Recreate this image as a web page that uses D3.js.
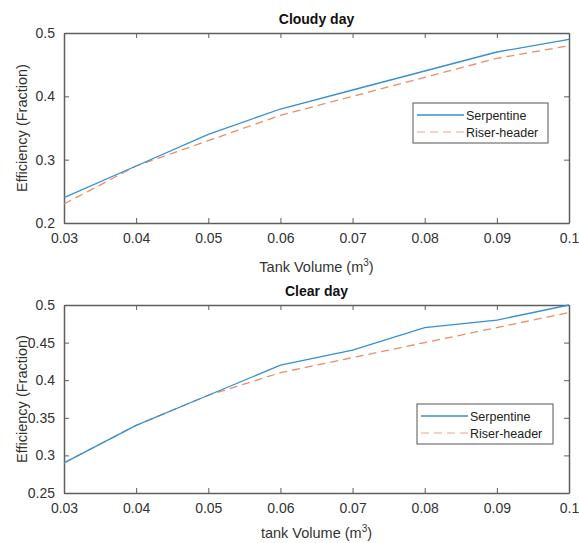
<!DOCTYPE html>
<html><head><meta charset="utf-8">
<script src="https://cdn.jsdelivr.net/npm/d3@7"></script>
<style>body{margin:0;background:#fff}svg{display:block}text{font-family:"Liberation Sans",Arial,sans-serif}</style>
</head><body>
<script>
const volumes = [0.03,0.04,0.05,0.06,0.07,0.08,0.09,0.10];
const cloudySerpentine = [0.24,0.29,0.34,0.38,0.41,0.44,0.47,0.49];
const cloudyRiser = [0.23,0.29,0.33,0.37,0.40,0.43,0.46,0.48];
const clearSerpentine = [0.29,0.34,0.38,0.42,0.44,0.47,0.48,0.50];
const clearRiser = [0.29,0.34,0.38,0.41,0.43,0.45,0.47,0.49];
const xTicks = [0.03,0.04,0.05,0.06,0.07,0.08,0.09,0.1];
const cloudyYTicks = [0.2,0.3,0.4,0.5];
const clearYTicks = [0.25,0.3,0.35,0.4,0.45,0.5];
const seriesNames = ["Serpentine","Riser-header"];

const W=579,H=543;
const svg=d3.select("body").append("svg").attr("width",W).attr("height",H);
const blue="#3690d2", orange="#e98d68", axisCol="#5e5e5e", textCol="#333";

function panel(o){
  const L=64,R=569,T=o.top,B=o.bottom;
  const x=d3.scaleLinear().domain([0.03,0.1]).range([L,R]);
  const y=d3.scaleLinear().domain(o.ydom).range([B,T]);
  const g=svg.append("g");
  const tl=5;
  const fmt=d=>String(+d.toFixed(2));
  const gb=g.append("g").attr("transform",`translate(0,${B})`).call(d3.axisBottom(x).tickValues(xTicks).tickFormat(fmt).tickSizeInner(-tl).tickSizeOuter(0).tickPadding(10));
  const gt=g.append("g").attr("transform",`translate(0,${T})`).call(d3.axisTop(x).tickValues(xTicks).tickFormat("").tickSizeInner(-tl).tickSizeOuter(0));
  const gl=g.append("g").attr("transform",`translate(${L},0)`).call(d3.axisLeft(y).tickValues(o.yticks).tickFormat(fmt).tickSizeInner(-tl).tickSizeOuter(0).tickPadding(9));
  const gr=g.append("g").attr("transform",`translate(${R},0)`).call(d3.axisRight(y).tickValues(o.yticks).tickFormat("").tickSizeInner(-tl).tickSizeOuter(0));
  [gb,gt,gl,gr].forEach(a=>{
    a.selectAll("path").attr("stroke",axisCol).attr("stroke-width",1.5);
    a.selectAll("line").attr("stroke",axisCol);
    a.selectAll("text").attr("fill",textCol).attr("font-size",14).style("font-family","Liberation Sans, Arial");
  });
  const line=v=>d3.line().x((d,i)=>x(volumes[i])).y(d=>y(d))(v);
  g.append("path").attr("d",line(o.riser)).attr("fill","none").attr("stroke",orange).attr("stroke-width",1.3).attr("stroke-dasharray","8,5");
  g.append("path").attr("d",line(o.serp)).attr("fill","none").attr("stroke",blue).attr("stroke-width",1.3);
  g.append("text").attr("x",(L+R)/2).attr("y",T-9).attr("text-anchor","middle").attr("font-weight","bold").attr("font-size",14).attr("fill","#111").text(o.title);
  const xl=g.append("text").attr("x",(L+R)/2).attr("y",B+o.xlOff).attr("text-anchor","middle").attr("font-size",14.5).attr("fill",textCol);
  xl.append("tspan").text(o.xlabel+" (m");
  xl.append("tspan").attr("dy",-6).attr("font-size",10).text("3");
  xl.append("tspan").attr("dy",6).text(")");
  g.append("text").attr("transform",`translate(27,${(T+B)/2}) rotate(-90)`).attr("text-anchor","middle").attr("font-size",14.5).attr("fill",textCol).text("Efficiency (Fraction)");
  const lg=g.append("g").attr("transform",`translate(${o.leg[0]},${o.leg[1]})`);
  lg.append("rect").attr("width",o.leg[2]).attr("height",40).attr("fill","#fff").attr("stroke","#555").attr("stroke-width",1);
  [[blue,null,"Serpentine"],["#f4c4b0","8,5","Riser-header"]].forEach((s,i)=>{
    const yy=12+i*17;
    lg.append("line").attr("x1",4).attr("x2",51).attr("y1",yy).attr("y2",yy).attr("stroke",s[0]).attr("stroke-width",1.3).attr("stroke-dasharray",s[1]);
    lg.append("text").attr("x",53).attr("y",yy+4.5).attr("font-size",12.5).attr("fill","#222").text(seriesNames[i]);
  });
}
panel({top:33,bottom:223,ydom:[0.2,0.5],yticks:cloudyYTicks,serp:cloudySerpentine,riser:cloudyRiser,title:"Cloudy day",xlabel:"Tank Volume",xlOff:49,leg:[413,103,135]});
panel({top:305,bottom:493,ydom:[0.25,0.5],yticks:clearYTicks,serp:clearSerpentine,riser:clearRiser,title:"Clear day",xlabel:"tank Volume",xlOff:45,leg:[417,404,136]});
</script>
</body></html>
